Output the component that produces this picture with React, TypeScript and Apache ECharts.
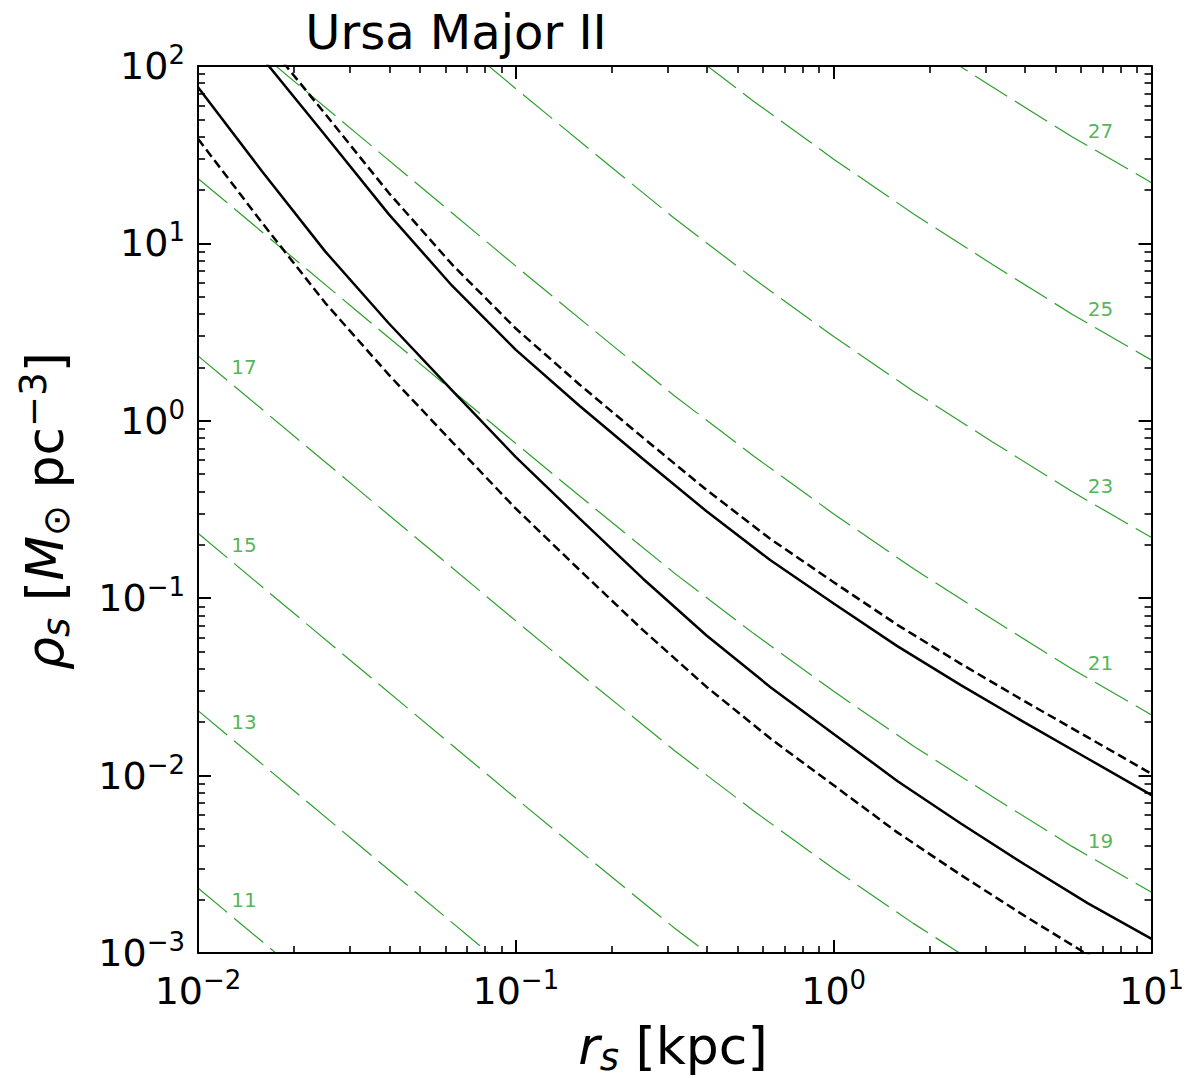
import React, { useEffect, useRef } from 'react';
import * as echarts from 'echarts';

const X_MIN = 0.01;
const X_MAX = 10;
const Y_MIN = 0.001;
const Y_MAX = 100;

// Green dashed contour lines (log10 J labels), r_s sample points
const contourRs = [0.01, 0.0316, 0.1, 0.178, 0.316, 0.562, 1, 1.78, 3.16, 5.62, 10];
const contourJ11 = [2.323e-3, 4.159e-4, 7.447e-5, 3.184e-5, 1.38e-5, 6.295e-6, 2.985e-6, 1.469e-6, 7.603e-7, 3.99e-7, 2.198e-7];
const contourJ13 = [2.323e-2, 4.159e-3, 7.447e-4, 3.184e-4, 1.38e-4, 6.295e-5, 2.985e-5, 1.469e-5, 7.603e-6, 3.99e-6, 2.198e-6];
const contourJ15 = [0.2323, 0.04159, 7.447e-3, 3.184e-3, 1.38e-3, 6.295e-4, 2.985e-4, 1.469e-4, 7.603e-5, 3.99e-5, 2.198e-5];
const contourJ17 = [2.323, 0.4159, 0.07447, 0.03184, 0.0138, 6.295e-3, 2.985e-3, 1.469e-3, 7.603e-4, 3.99e-4, 2.198e-4];
const contourJ19 = [23.23, 4.159, 0.7447, 0.3184, 0.138, 0.06295, 0.02985, 0.01469, 7.603e-3, 3.99e-3, 2.198e-3];
const contourJ21 = [232.3, 41.59, 7.447, 3.184, 1.38, 0.6295, 0.2985, 0.1469, 0.07603, 0.0399, 0.02198];
const contourJ23 = [2323, 415.9, 74.47, 31.84, 13.8, 6.295, 2.985, 1.469, 0.7603, 0.399, 0.2198];
const contourJ25 = [23230, 4159, 744.7, 318.4, 138.0, 62.95, 29.85, 14.69, 7.603, 3.99, 2.198];
const contourJ27 = [232300, 41590, 7447, 3184, 1380, 629.5, 298.5, 146.9, 76.03, 39.9, 21.98];
const contours = [contourJ11, contourJ13, contourJ15, contourJ17, contourJ19, contourJ21, contourJ23, contourJ25, contourJ27];

// Contour labels
const contourLabelText = ['11', '13', '15', '17', '19', '21', '23', '25', '27'];
const contourLabelX = [0.01396, 0.01396, 0.01396, 0.01396, 6.91, 6.91, 6.91, 6.91, 6.91];
const contourLabelY = [0.001991, 0.01995, 0.1995, 2.003, 0.004295, 0.04295, 0.429, 4.285, 43.0];

// Black curves
const curveRs = [0.01, 0.01585, 0.02512, 0.03981, 0.0631, 0.1, 0.1585, 0.2512, 0.3981, 0.631, 1, 1.585, 2.512, 3.981, 6.31, 10];
const solidLower = [75.86, 25.7, 9.016, 3.548, 1.479, 0.6237, 0.2818, 0.1288, 0.06166, 0.03162, 0.01718, 0.009333, 0.00537, 0.003162, 0.001905, 0.001202];
const dashedLower = [38.9, 13.18, 4.624, 1.82, 0.7586, 0.3199, 0.1445, 0.06607, 0.03162, 0.01622, 0.00881, 0.004786, 0.002754, 0.001622, 9.772e-4, 6.166e-4];
const solidUpper = [309.0, 112.2, 40.74, 14.62, 5.754, 2.512, 1.216, 0.6095, 0.309, 0.1641, 0.09333, 0.0537, 0.03236, 0.01995, 0.01245, 0.007762];
const dashedUpper = [407.4, 147.9, 53.7, 19.28, 7.586, 3.311, 1.603, 0.8035, 0.4074, 0.2163, 0.123, 0.07079, 0.04266, 0.0263, 0.01641, 0.01023];

const FONT = 'DejaVu Sans';
const GREEN = '#2ca02c';
const W = 1187;
const H = 1078;

const pair = (xs: number[], ys: number[]) => xs.map((x, i) => [x, ys[i]]);

const expLabel = (v: number) => {
  const e = Math.round(Math.log10(v));
  return '10{sup|' + (e < 0 ? '\u2212' + String(-e) : String(e)) + '}';
};

export default function App() {
  const ref = useRef<HTMLDivElement>(null);

  useEffect(() => {
    if (!ref.current) return;
    const chart = echarts.init(ref.current, null, { renderer: 'svg' });

    const contourSeries = contours.map((c) => ({
      type: 'line',
      data: pair(contourRs, c),
      symbol: 'none',
      showSymbol: false,
      silent: true,
      clip: true,
      z: 2,
      lineStyle: { color: GREEN, width: 1.2, type: [38, 9] },
    }));

    const curve = (ys: number[], dashed: boolean) => ({
      type: 'line',
      data: pair(curveRs, ys),
      symbol: 'none',
      showSymbol: false,
      silent: true,
      clip: true,
      z: 3,
      lineStyle: { color: '#000', width: 2.5, type: dashed ? [9, 4.5] : 'solid' },
    });

    const labelSeries = {
      type: 'scatter',
      silent: true,
      z: 5,
      symbolSize: 1,
      itemStyle: { color: 'transparent' },
      data: contourLabelX.map((x, i) => [x, contourLabelY[i], contourLabelText[i]]),
      label: {
        show: true,
        position: 'inside',
        formatter: (p: any) => p.data[2],
        color: GREEN,
        fontSize: 20,
        fontFamily: FONT,
      },
    };

    const tickLabel = (margin: number, show: boolean) => ({
      show,
      formatter: expLabel,
      fontSize: 38,
      fontFamily: FONT,
      color: '#000',
      lineHeight: 48,
      margin,
      rich: {
        sup: { fontSize: 26, lineHeight: 26, verticalAlign: 'top', fontFamily: FONT, color: '#000' },
      },
    });

    const logAxis = (min: number, max: number, position: string, margin: number, showLabel: boolean) => ({
      type: 'log',
      logBase: 10,
      min,
      max,
      position,
      z: 10,
      axisLine: { show: true, onZero: false, lineStyle: { color: '#000', width: 2 } },
      axisTick: { show: true, inside: true, length: 13, lineStyle: { color: '#000', width: 2 } },
      minorTick: { show: true, splitNumber: 9, length: 7, lineStyle: { color: '#000', width: 1.6 } },
      splitLine: { show: false },
      minorSplitLine: { show: false },
      axisLabel: tickLabel(margin, showLabel),
    });

    const labelRich = {
      it: { fontSize: 52, lineHeight: 60, fontStyle: 'italic', fontFamily: FONT, color: '#000' },
      sub: { fontSize: 37, lineHeight: 37, fontStyle: 'italic', verticalAlign: 'bottom', fontFamily: FONT, color: '#000' },
      sun: { fontSize: 37, lineHeight: 37, verticalAlign: 'bottom', fontFamily: FONT, color: '#000' },
      sup: { fontSize: 37, lineHeight: 37, verticalAlign: 'top', fontFamily: FONT, color: '#000' },
    };

    chart.setOption({
      animation: false,
      backgroundColor: '#fff',
      grid: {
        left: 198,
        right: 35,
        top: 66,
        bottom: 125,
        show: false,
      },
      xAxis: [
        logAxis(X_MIN, X_MAX, 'bottom', 14, true),
        logAxis(X_MIN, X_MAX, 'top', 14, false),
      ],
      yAxis: [
        logAxis(Y_MIN, Y_MAX, 'left', 13, true),
        logAxis(Y_MIN, Y_MAX, 'right', 13, false),
      ],
      series: [
        ...contourSeries,
        curve(solidLower, false),
        curve(dashedLower, true),
        curve(solidUpper, false),
        curve(dashedUpper, true),
        labelSeries,
      ],
      graphic: {
        elements: [
          {
            type: 'text',
            x: 456,
            y: 32,
            style: {
              text: 'Ursa Major II',
              fontSize: 48,
              fontFamily: FONT,
              fill: '#000',
              align: 'center',
              verticalAlign: 'middle',
            },
          },
          {
            type: 'text',
            x: 673,
            y: 1046,
            style: {
              text: '{it|r}{sub|s} [kpc]',
              fontSize: 52,
              lineHeight: 60,
              fontFamily: FONT,
              fill: '#000',
              align: 'center',
              verticalAlign: 'middle',
              rich: labelRich,
            },
          },
          {
            type: 'text',
            x: 45,
            y: 511,
            rotation: Math.PI / 2,
            style: {
              text: '{it|\u03c1}{sub|s} [{it|M}{sun|\u2299} pc{sup|\u22123}]',
              fontSize: 52,
              lineHeight: 60,
              fontFamily: FONT,
              fill: '#000',
              align: 'center',
              verticalAlign: 'middle',
              rich: labelRich,
            },
          },
        ],
      },
    } as any);

    return () => {
      chart.dispose();
    };
  }, []);

  return (
    <div
      ref={ref}
      style={{ position: 'fixed', left: 0, top: 0, width: W, height: H, background: '#fff' }}
    />
  );
}
